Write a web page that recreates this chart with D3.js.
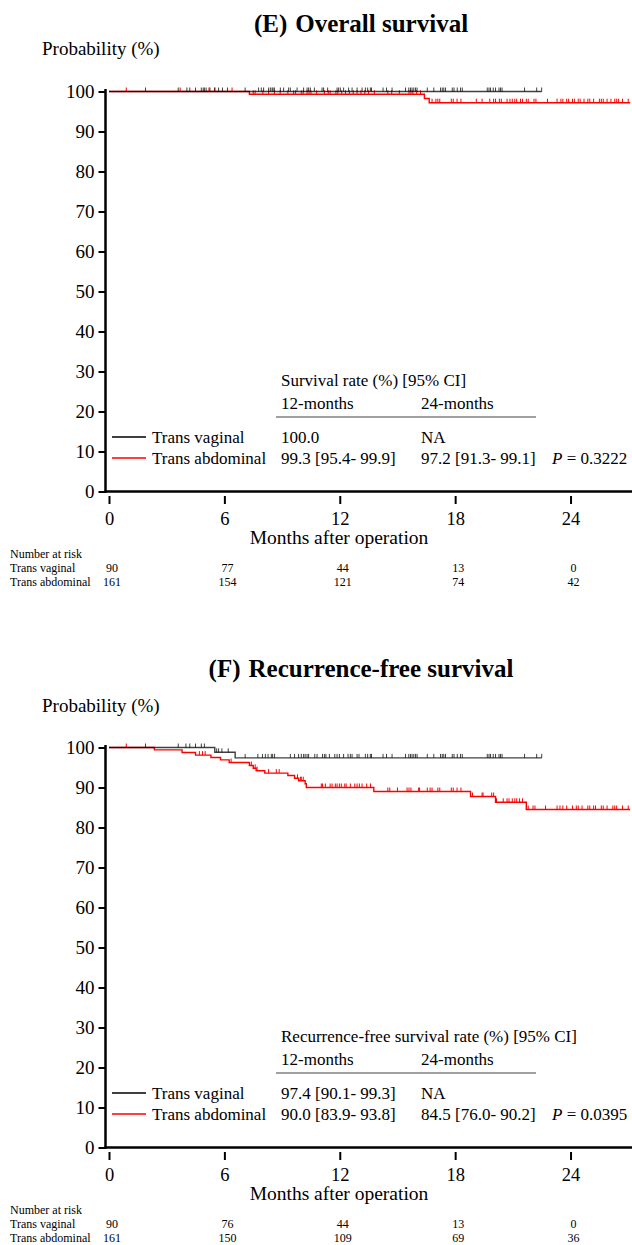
<!DOCTYPE html>
<html>
<head>
<meta charset="utf-8">
<script src="https://cdn.jsdelivr.net/npm/d3@7"></script>
<style>
    body { margin: 0; background: #fff; }
    svg { display: block; font-family: "Liberation Serif", "Times New Roman", serif; }
</style>
</head>
<body>
<svg id="chart" width="632" height="1245"></svg>
<script>
// axis ticks
const monthTicks = [0, 6, 12, 18, 24];
const probTicks = [0, 10, 20, 30, 40, 50, 60, 70, 80, 90, 100];
const groupNames = ["Trans vaginal", "Trans abdominal"];

// (E) overall survival: step times (months) and survival (%) after each step
const osVagEventTimes = [];
const osVagEventSurv = [];
const osVagEnd = 22.5;
const osVagCensor = [1.9, 3.6, 4.05, 4.2, 4.5, 4.8, 4.9, 4.96, 5.05, 5.25, 5.5, 5.7, 5.9, 6.16,
    7.08, 7.78, 7.92, 8.04, 8.3, 8.39, 8.48, 8.53, 8.6, 8.91, 9.08, 9.34, 9.43, 9.78, 10.12,
    10.3, 10.38, 10.47, 10.68, 11.08, 11.16, 11.37, 11.86, 11.94, 12.03, 12.2, 12.46, 12.64,
    12.9, 13.16, 13.33, 13.45, 13.59, 13.65, 14.25, 14.43, 14.72, 15.42, 15.59, 15.68, 15.76,
    15.85, 15.94, 16.02, 16.55, 16.89, 17.24, 17.33, 17.41, 17.5, 17.85, 17.94, 18.11, 18.28,
    18.37, 19.67, 19.76, 19.84, 19.98, 20.1, 20.28, 20.36, 20.44, 21.61, 22.24, 22.5];

const osAbdEventTimes = [7.3, 16.4, 16.65];
const osAbdEventSurv = [99.3, 98.25, 97.2];
const osAbdEnd = 27.1;
const osAbdCensor = [0.9, 3.7, 5.2, 5.5, 6.4, 7.5, 7.6, 8.0, 8.3, 8.6, 8.9, 9.3, 9.6, 9.7, 10.0,
    10.1, 10.3, 10.4, 10.5, 10.8, 11.2, 11.4, 11.5, 11.8, 11.9, 12.1, 12.3, 12.5, 12.7, 12.9,
    13.1, 13.3, 13.5, 13.8, 14.5, 14.7, 15.1, 15.6, 15.7, 15.8, 16.0, 16.2, 16.8, 17.0, 17.1,
    17.2, 17.8, 17.9, 18.1, 18.3, 19.1, 19.4, 19.8, 20.0, 20.1, 20.3, 20.4, 20.7, 20.85, 20.97,
    21.1, 21.2, 21.4, 21.5, 21.7, 21.8, 22.1, 22.2, 22.8, 23.3, 23.5, 23.6, 23.8, 23.9, 24.1,
    24.2, 24.4, 24.5, 24.7, 24.9, 25.0, 25.2, 25.5, 25.6, 25.7, 25.9, 26.1, 26.3, 26.4, 26.5,
    26.7, 27.0];

const osRiskVag = [90, 77, 44, 13, 0];
const osRiskAbd = [161, 154, 121, 74, 42];
const osHeader = "Survival rate (%) [95% CI]";
const osRowVag = ["100.0", "NA"];
const osRowAbd = ["99.3 [95.4- 99.9]", "97.2 [91.3- 99.1]"];
const osP = "0.3222";

// (F) recurrence-free survival
const rfsVagEventTimes = [5.5, 6.56];
const rfsVagEventSurv = [98.8, 97.4];
const rfsVagEnd = 22.5;
const rfsVagCensor = [1.9, 3.6, 4.0, 4.2, 4.5, 4.8, 4.96, 5.6, 5.7, 5.87, 6.2, 7.08, 7.74, 7.98,
    8.13, 8.27, 8.44, 8.51, 8.61, 9.43, 9.65, 9.86, 10.0, 10.12, 10.2, 10.3, 10.38, 10.7, 10.82,
    11.1, 11.2, 11.28, 11.46, 11.74, 11.86, 11.98, 12.2, 12.43, 12.55, 12.64, 12.9, 13.0, 13.33,
    13.45, 13.59, 13.65, 14.25, 14.43, 14.72, 15.42, 15.59, 15.68, 15.76, 15.85, 15.94, 16.02,
    16.55, 16.89, 17.24, 17.33, 17.41, 17.5, 17.85, 17.94, 18.11, 18.28, 18.37, 19.67, 19.76,
    19.84, 19.98, 20.1, 20.28, 20.36, 20.44, 21.61, 22.24, 22.5];

const rfsAbdEventTimes = [2.36, 3.8, 4.5, 5.3, 5.8, 6.25, 7.3, 7.5, 7.65, 8.1, 9.3, 9.65, 9.86,
    10.2, 10.26, 13.77, 18.8, 20.1, 21.7];
const rfsAbdEventSurv = [99.4, 98.75, 98.1, 97.5, 96.9, 96.25, 95.5, 94.8, 94.2, 93.6, 93.0,
    92.3, 91.7, 90.95, 90.0, 89.0, 87.75, 86.3, 84.5];
const rfsAbdEnd = 27.1;
const rfsAbdCensor = [0.9, 4.7, 4.86, 5.0, 6.35, 7.4, 7.6, 7.7, 8.3, 8.7, 8.85, 9.8, 9.95, 10.0,
    10.1, 11.04, 11.1, 11.25, 11.5, 11.6, 11.77, 11.86, 11.98, 12.08, 12.26, 12.33, 12.55,
    12.78, 12.9, 13.02, 13.16, 13.4, 13.6, 14.5, 14.6, 15.0, 15.5, 15.6, 15.7, 16.1, 16.15,
    16.55, 16.7, 16.8, 17.1, 17.2, 17.8, 17.9, 18.1, 18.3, 18.9, 19.4, 19.45, 19.9, 20.0, 20.15,
    20.5, 20.7, 20.8, 20.97, 21.1, 21.2, 21.35, 21.5, 21.8, 22.05, 22.15, 22.7, 23.3, 23.45,
    23.6, 23.8, 24.1, 24.3, 24.4, 24.6, 24.9, 25.0, 25.2, 25.3, 25.6, 25.7, 25.9, 26.2, 26.3,
    26.4, 26.7, 27.0];

const rfsRiskVag = [90, 76, 44, 13, 0];
const rfsRiskAbd = [161, 150, 109, 69, 36];
const rfsHeader = "Recurrence-free survival rate (%) [95% CI]";
const rfsRowVag = ["97.4 [90.1- 99.3]", "NA"];
const rfsRowAbd = ["90.0 [83.9- 93.8]", "84.5 [76.0- 90.2]"];
const rfsP = "0.0395";

const svg = d3.select("#chart");
const x = d3.scaleLinear().domain([0, 27.3]).range([109, 634]);

function survAt(times, surv, t) {
    let s = 100;
    times.forEach((tt, i) => { if (tt <= t) s = surv[i]; });
    return s;
}

function stepPoints(times, surv, end) {
    const pts = [[0, 100]];
    times.forEach((t, i) => pts.push([t, surv[i]]));
    pts.push([end, surv.length ? surv[surv.length - 1] : 100]);
    return pts;
}

function drawPanel(p) {
    const g = svg.append("g").attr("transform", `translate(0, ${p.top})`);
    const y = d3.scaleLinear().domain([0, 100]).range([491.5, 91.5]);

    g.append("text").attr("x", 361).attr("y", p.titleY)
        .attr("text-anchor", "middle").attr("font-size", 25).attr("font-weight", "bold")
        .call(t => {
            t.append("tspan").text(p.letter);
            t.append("tspan").attr("dx", 8).text(p.title);
        });

    g.append("text").attr("x", 42).attr("y", p.probY).attr("font-size", 19)
        .text("Probability (%)");

    // y axis
    const yAxis = g.append("g").attr("transform", "translate(105.5,0)")
        .call(d3.axisLeft(y).tickValues(probTicks).tickSize(7).tickPadding(4))
        .attr("font-family", null).attr("font-size", 19);
    yAxis.select(".domain").remove();
    yAxis.selectAll("line").attr("stroke-width", 2);
    yAxis.selectAll("text").attr("fill", "#000");
    g.append("line").attr("x1", 105.5).attr("x2", 105.5).attr("y1", 89).attr("y2", 493)
        .attr("stroke", "#000").attr("stroke-width", 2.5);
    g.append("line").attr("x1", 104.5).attr("x2", 632).attr("y1", 491.5).attr("y2", 491.5)
        .attr("stroke", "#000").attr("stroke-width", 2.5);

    // x axis, set apart from the box
    const xAxis = g.append("g").attr("transform", "translate(0,496)")
        .call(d3.axisBottom(x).tickValues(monthTicks).tickSize(8).tickPadding(8))
        .attr("font-family", null).attr("font-size", 18.5);
    xAxis.select(".domain").remove();
    xAxis.selectAll("line").attr("stroke-width", 2);
    xAxis.selectAll("text").attr("fill", "#000");

    g.append("text").attr("x", 339).attr("y", 544).attr("text-anchor", "middle")
        .attr("font-size", 19.5).text("Months after operation");

    // curves
    const line = d3.line().x(d => x(d[0])).y(d => y(d[1])).curve(d3.curveStepAfter);
    p.series.forEach(s => {
        g.append("path").datum(stepPoints(s.times, s.surv, s.end))
            .attr("d", line).attr("fill", "none").attr("stroke", s.color)
            .attr("stroke-width", 1.4).attr("stroke-opacity", s.opacity);
        g.selectAll(null).data(s.censor).enter().append("line")
            .attr("x1", d => x(d)).attr("x2", d => x(d))
            .attr("y1", d => y(survAt(s.times, s.surv, d)))
            .attr("y2", d => y(survAt(s.times, s.surv, d)) - 4)
            .attr("stroke", s.color).attr("stroke-width", 1).attr("stroke-opacity", s.opacity);
    });

    // legend and rate table
    const legendY = [443, 464];
    const colors = ["#000", "#ff0000"];
    groupNames.forEach((name, i) => {
        g.append("line").attr("x1", 112).attr("x2", 146)
            .attr("y1", legendY[i] - 6).attr("y2", legendY[i] - 6)
            .attr("stroke", colors[i]).attr("stroke-width", 1.5);
        g.append("text").attr("x", 152).attr("y", legendY[i]).attr("font-size", 17).text(name);
    });
    g.append("text").attr("x", 281).attr("y", 386).attr("font-size", 17).text(p.header);
    g.append("text").attr("x", 281).attr("y", 409).attr("font-size", 17).text("12-months");
    g.append("text").attr("x", 421).attr("y", 409).attr("font-size", 17).text("24-months");
    g.append("line").attr("x1", 276).attr("x2", 536).attr("y1", 417).attr("y2", 417)
        .attr("stroke", "#808080").attr("stroke-width", 1.5);
    [p.rowVag, p.rowAbd].forEach((row, i) => {
        g.append("text").attr("x", 281).attr("y", legendY[i]).attr("font-size", 17).text(row[0]);
        g.append("text").attr("x", 421).attr("y", legendY[i]).attr("font-size", 17).text(row[1]);
    });
    g.append("text").attr("x", 552).attr("y", legendY[1]).attr("font-size", 17)
        .call(t => {
            t.append("tspan").attr("font-style", "italic").text("P");
            t.append("tspan").text(" = " + p.pValue);
        });

    // number at risk
    g.append("text").attr("x", 10).attr("y", 558).attr("font-size", 12).text("Number at risk");
    [p.riskVag, p.riskAbd].forEach((row, i) => {
        const ry = 572 + i * 14;
        g.append("text").attr("x", 10).attr("y", ry).attr("font-size", 12).text(groupNames[i]);
        g.selectAll(null).data(row).enter().append("text")
            .attr("x", (d, j) => x(monthTicks[j]) + 3).attr("y", ry)
            .attr("text-anchor", "middle").attr("font-size", 12).text(d => d);
    });
}

drawPanel({
    top: 0, titleY: 32, probY: 55, letter: "(E)", title: "Overall survival",
    header: osHeader, rowVag: osRowVag, rowAbd: osRowAbd, pValue: osP,
    riskVag: osRiskVag, riskAbd: osRiskAbd,
    series: [
        { times: osAbdEventTimes, surv: osAbdEventSurv, end: osAbdEnd, censor: osAbdCensor, color: "#ff0000", opacity: 1 },
        { times: osVagEventTimes, surv: osVagEventSurv, end: osVagEnd, censor: osVagCensor, color: "#000", opacity: 0.75 }
    ]
});

drawPanel({
    top: 656, titleY: 21, probY: 56, letter: "(F)", title: "Recurrence-free survival",
    header: rfsHeader, rowVag: rfsRowVag, rowAbd: rfsRowAbd, pValue: rfsP,
    riskVag: rfsRiskVag, riskAbd: rfsRiskAbd,
    series: [
        { times: rfsAbdEventTimes, surv: rfsAbdEventSurv, end: rfsAbdEnd, censor: rfsAbdCensor, color: "#ff0000", opacity: 1 },
        { times: rfsVagEventTimes, surv: rfsVagEventSurv, end: rfsVagEnd, censor: rfsVagCensor, color: "#000", opacity: 0.75 }
    ]
});
</script>
</body>
</html>
